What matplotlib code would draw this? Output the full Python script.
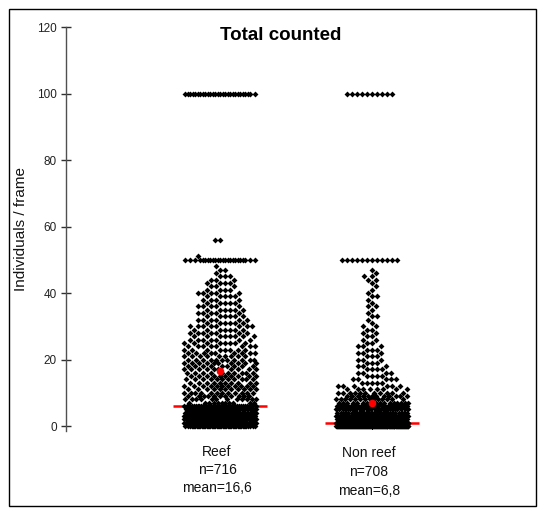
import numpy as np
import matplotlib
matplotlib.use("Agg")
import matplotlib.pyplot as plt
import matplotlib.transforms as mtransforms
from matplotlib.patches import Rectangle

plt.rcParams['font.family'] = ['Liberation Sans', 'DejaVu Sans']

# ---- data -------------------------------------------------------------
groups = ["Reef", "Non reef"]
n_labels = ["n=716", "n=708"]
mean_labels = ["mean=16,6", "mean=6,8"]
group_means = [16.6, 6.8]
group_medians = [6, 1]

# individuals per frame (value) and how many frames had that value
reef_values = list(range(0, 48)) + [48, 50, 51, 56, 100]
reef_counts = [52, 70, 60, 55, 45, 40, 37,
               11, 12, 11, 12, 11, 11, 10, 11, 10, 10,
               10, 9, 10, 11, 9, 9, 8, 8, 8, 7,
               8, 7, 7, 8, 6, 6, 6, 5, 6, 5,
               5, 4, 5, 5, 4, 3, 4, 3, 3, 1, 2,
               1, 24, 1, 2, 28]

nonreef_values = list(range(0, 48)) + [50, 100]
nonreef_counts = [185, 170,
                  60, 44, 34, 26, 22, 17, 14, 12, 11, 8,
                  6, 5, 5, 4, 4, 4, 3, 3, 3, 3,
                  3, 3, 3, 2, 2, 2, 2, 2, 2, 1,
                  1, 2, 1, 1, 2, 1, 1, 2, 1, 1,
                  1, 1, 2, 2, 1, 1,
                  12, 10]

series = [(reef_values, reef_counts), (nonreef_values, nonreef_counts)]

# ---- figure -----------------------------------------------------------
W, H = 544, 511
fig = plt.figure(figsize=(W / 100, H / 100), dpi=100)

ax_left, ax_right = 66, 530
ax_top, ax_bottom = 27, 431
ax = fig.add_axes([ax_left / W, (H - ax_bottom) / H,
                   (ax_right - ax_left) / W, (ax_bottom - ax_top) / H])

px_per_unit = 152.0
centers = [1, 2]
xmin = 1 - (220 - ax_left) / px_per_unit
ax.set_xlim(xmin, xmin + (ax_right - ax_left) / px_per_unit)
y_lo, y_hi = -1.5, 120
ax.set_ylim(y_lo, y_hi)
y_px_per_unit = (ax_bottom - ax_top) / (y_hi - y_lo)


def swarm_offsets(values, counts, diam=5.0, half_width=36.0):
    """Beeswarm layout in pixel space; returns (y values, x offsets in px)."""
    ys = np.repeat(np.asarray(values, float), counts)
    ypx = ys * y_px_per_unit
    steps = np.arange(0.5, half_width + 1e-9, 0.5)
    base = np.concatenate([[0.0], np.column_stack([steps, -steps]).ravel()])
    px_list, py_list = [], []
    offs = np.empty(len(ys))
    side = 1.0
    for i, yp in enumerate(ypx):
        cand = base * side
        if px_list:
            px = np.asarray(px_list)
            py = np.asarray(py_list)
            near = np.abs(py - yp) < diam
            nx, ny = px[near], py[near]
        else:
            nx = ny = np.empty(0)
        if len(nx):
            d2 = (cand[:, None] - nx[None, :]) ** 2 + (yp - ny[None, :]) ** 2
            mind = d2.min(axis=1)
            ok = mind >= diam * diam - 1e-9
            x = cand[np.argmax(ok)] if ok.any() else cand[np.argmax(mind)]
        else:
            x = 0.0
        offs[i] = x
        px_list.append(x)
        py_list.append(yp)
        side = -side
    return ys, offs


for cx, (vals, cnts), med, mu in zip(centers, series, group_medians, group_means):
    ys, offs = swarm_offsets(vals, cnts)
    xs = cx + offs / px_per_unit
    # median bar
    half = 47.0 / px_per_unit
    ax.plot([cx - half, cx + half], [med, med], color='#ff0000', lw=1.8,
            solid_capstyle='butt', zorder=2)
    ax.scatter(xs, ys, s=9, marker='D', color='black', linewidths=0, zorder=3)
    # mean marker
    ax.scatter([cx], [mu], s=30, marker='o', color='#ff0000', linewidths=0, zorder=4)

# axes styling
for side_name in ('top', 'right', 'bottom'):
    ax.spines[side_name].set_visible(False)
ax.spines['left'].set_color('#505050')
ax.spines['left'].set_linewidth(1.0)
ax.set_xticks([])
ax.set_yticks(np.arange(0, 121, 20))
ax.tick_params(axis='y', direction='inout', length=7, width=1.0,
               color='#303030', labelsize=8.5, labelcolor='#222222', pad=3)
ax.set_ylabel("Individuals / frame", fontsize=11, color='#111111')
ax.yaxis.set_label_coords((28 - ax_left) / (ax_right - ax_left), 0.5)

# title
fig.text(281 / W, 1 - 35 / H, "Total counted", ha='center', va='center',
         fontsize=13.5, fontweight='bold', color='black')

# category captions under each column
trans = mtransforms.blended_transform_factory(ax.transData, fig.transFigure)
caption_y = [[452, 470, 488], [453, 472, 491]]
for cx, name, nl, ml, yy in zip(centers, groups, n_labels, mean_labels, caption_y):
    for txt, ypix in zip([name, nl, ml], yy):
        ax.text(cx - 3 / px_per_unit, 1 - ypix / H, txt, transform=trans,
                ha='center', va='center', fontsize=10, color='#111111',
                clip_on=False)

# outer frame
fig.patches.append(Rectangle((9 / W, 5 / H), 527 / W, 497 / H,
                             transform=fig.transFigure, fill=False,
                             edgecolor='black', linewidth=1.0))

fig.savefig("out.png", dpi=100)
